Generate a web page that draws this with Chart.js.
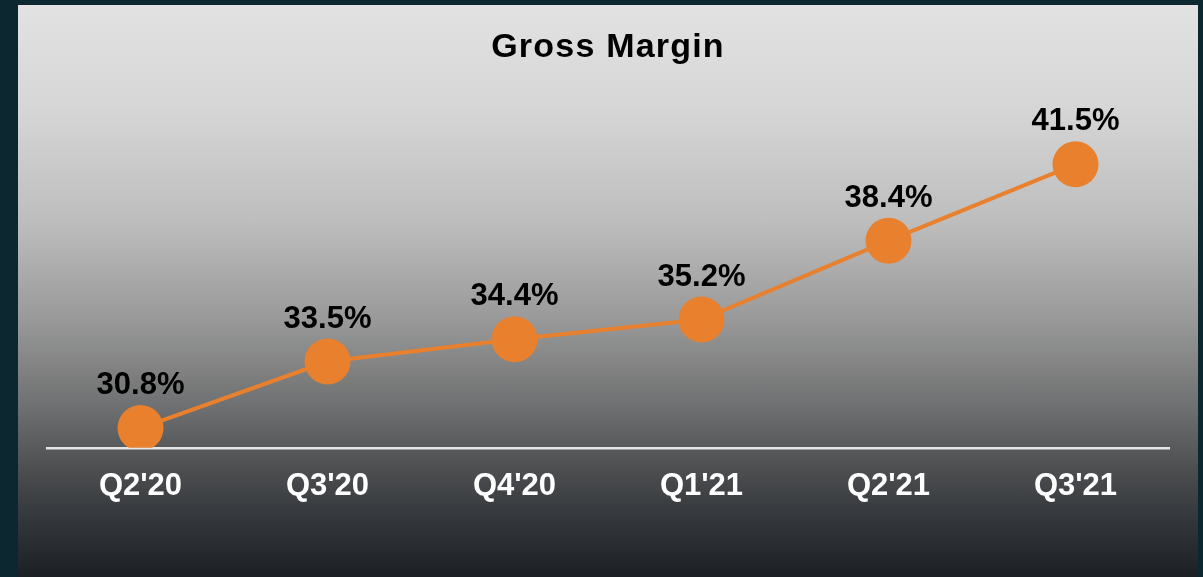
<!DOCTYPE html>
<html>
<head>
<meta charset="utf-8">
<script src="https://cdn.jsdelivr.net/npm/chart.js@4/dist/chart.umd.min.js"></script>
<style>
  html, body { margin: 0; padding: 0; background: #0c2730; width: 1203px; height: 577px; overflow: hidden; }
  #panel {
    position: absolute; left: 18px; top: 5px; width: 1180px; height: 572px;
    background: linear-gradient(to bottom, #e2e2e2 0%, #d6d6d6 18%, #bdbdbd 38%, #999999 55%, #6f7071 70%, #505254 80%, #33363a 90%, #1c1f24 100%);
  }
  canvas { display: block; }
</style>
</head>
<body>
<div id="panel"><canvas id="c" width="1180" height="572"></canvas></div>
<script>
const titleText = "Gross Margin";
const categories = ["Q2'20", "Q3'20", "Q4'20", "Q1'21", "Q2'21", "Q3'21"];
const grossMargin = [30.8, 33.5, 34.4, 35.2, 38.4, 41.5];
const yMin = 30;
const yMax = 45;

const orange = '#e8802e';

const spacingPlugin = {
  id: 'titleSpacing',
  beforeDraw(chart) { chart.ctx.letterSpacing = '1.2px'; },
  beforeDatasetsDraw(chart) { chart.ctx.letterSpacing = '0px'; }
};

const valueLabels = {
  id: 'valueLabels',
  afterDatasetsDraw(chart) {
    const ctx = chart.ctx;
    const meta = chart.getDatasetMeta(0);
    ctx.save();
    ctx.font = 'bold 31px "Liberation Sans", Arial, sans-serif';
    ctx.fillStyle = '#000000';
    ctx.textAlign = 'center';
    ctx.textBaseline = 'alphabetic';
    meta.data.forEach((pt, i) => {
      const v = chart.data.datasets[0].data[i];
      ctx.fillText(v.toFixed(1) + '%', pt.x, pt.y - 34);
    });
    ctx.restore();
  }
};

new Chart(document.getElementById('c'), {
  type: 'line',
  data: {
    labels: categories,
    datasets: [{
      label: 'Gross Margin',
      data: grossMargin,
      borderColor: orange,
      backgroundColor: orange,
      borderWidth: 4,
      pointRadius: 23,
      pointHoverRadius: 23,
      pointBackgroundColor: orange,
      pointBorderWidth: 0,
      tension: 0,
      fill: false
    }]
  },
  options: {
    responsive: false,
    animation: false,
    events: [],
    layout: { padding: { left: 29, right: 29, top: 0, bottom: 51 } },
    plugins: {
      legend: { display: false },
      tooltip: { enabled: false },
      title: {
        display: true,
        text: titleText,
        color: '#000000',
        font: { family: '"Liberation Sans", Arial, sans-serif', size: 34, weight: 'bold', lineHeight: 1.2 },
        padding: { top: 22.5, bottom: 9.7 }
      }
    },
    scales: {
      x: {
        type: 'category',
        offset: true,
        grid: { display: false, drawTicks: false },
        border: { display: true, color: '#e6e6e6', width: 2.5 },
        ticks: {
          z: 1,
          color: '#ffffff',
          padding: 20.5,
          font: { family: '"Liberation Sans", Arial, sans-serif', size: 31, weight: 'bold', lineHeight: 1.2 }
        }
      },
      y: {
        display: false,
        min: yMin,
        max: yMax
      }
    }
  },
  plugins: [spacingPlugin, valueLabels]
});
</script>
</body>
</html>
